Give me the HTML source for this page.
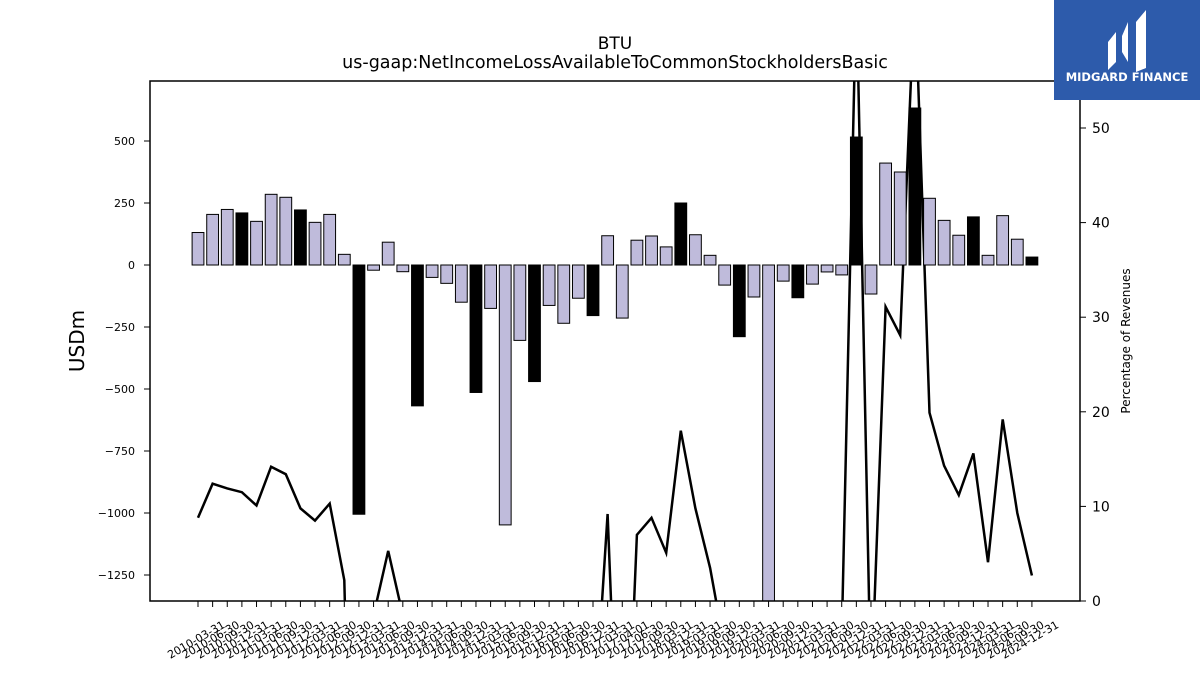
<!DOCTYPE html>
<html><head><meta charset="utf-8"><style>
html,body{margin:0;background:#fff;overflow:hidden;width:1200px;height:675px;font-family:"Liberation Sans","DejaVu Sans",sans-serif}
svg{display:block}
svg text{font-family:"DejaVu Sans","Liberation Sans",sans-serif}
</style></head><body>
<svg id="chart" width="1200" height="675" xmlns="http://www.w3.org/2000/svg">
<defs><clipPath id="plotclip"><rect x="150" y="81" width="930" height="520"/></clipPath></defs>
<rect width="1200" height="675" fill="#fff"/>
<text x="615" y="49" font-size="17" text-anchor="middle">BTU</text>
<text x="615" y="68" font-size="17.5" text-anchor="middle">us-gaap:NetIncomeLossAvailableToCommonStockholdersBasic</text>
<g id="line" clip-path="url(#plotclip)"></g>
<g id="bars" clip-path="url(#plotclip)"></g>
<rect x="150" y="81" width="930" height="520" fill="none" stroke="#000" stroke-width="1.5"/>
<g id="yleft"></g>
<g id="yright"></g>
<g id="xaxis"></g>
<text transform="translate(84,341) rotate(-90)" font-size="20" text-anchor="middle">USDm</text>
<text transform="translate(1130,341) rotate(-90)" font-size="12" text-anchor="middle">Percentage of Revenues</text>
<g>
<rect x="1054" y="0" width="146" height="100" fill="#2d5bab"/>
<path d="M1108 42 L1116 32 L1116 62 L1108 70 Z M1122 36 L1128 22 L1128 62 L1122 52 Z M1136 22 L1146 10 L1146 68 L1136 72 Z" fill="#fff"/>
<text x="1127" y="81" font-size="11.5" font-weight="bold" fill="#fff" text-anchor="middle" font-family="Liberation Sans">MIDGARD FINANCE</text>
</g>
</svg>
<script>
const dates=["2010-03-31","2010-06-30","2010-09-30","2010-12-31","2011-03-31","2011-06-30","2011-09-30","2011-12-31","2012-03-31","2012-06-30","2012-09-30","2012-12-31","2013-03-31","2013-06-30","2013-09-30","2013-12-31","2014-03-31","2014-06-30","2014-09-30","2014-12-31","2015-03-31","2015-06-30","2015-09-30","2015-12-31","2016-03-31","2016-06-30","2016-09-30","2016-12-31","2017-03-31","2017-04-01","2017-06-30","2017-09-30","2018-03-31","2018-12-31","2019-03-31","2019-06-30","2019-09-30","2019-12-31","2020-03-31","2020-06-30","2020-09-30","2020-12-31","2021-03-31","2021-06-30","2021-09-30","2021-12-31","2022-03-31","2022-06-30","2022-09-30","2022-12-31","2023-03-31","2023-06-30","2023-09-30","2023-12-31","2024-03-31","2024-06-30","2024-09-30","2024-12-31"];
const netIncome=[131,204,224,210,176,285,273,222,172,204,43,-1005,-21,92,-27,-568,-50,-74,-150,-514,-175,-1048,-304,-470,-163,-235,-134,-204,118,-214,100,117,73,250,122,39,-81,-289,-129,-1500,-65,-132,-77,-28,-40,516,-117,411,375,633,269,180,120,194,39,199,104,32];
const annual=[0,0,0,1,0,0,0,1,0,0,0,1,0,0,0,1,0,0,0,1,0,0,0,1,0,0,0,1,0,0,0,0,0,1,0,0,0,1,0,0,0,1,0,0,0,1,0,0,0,1,0,0,0,1,0,0,0,1];
const pctRevenue=[8.8,12.4,11.9,11.5,10.1,14.2,13.4,9.8,8.5,10.3,2.2,-60,-1.5,5.3,-1.5,-40,-3,-5,-10,-40,-12,-80,-25,-40,-15,-25,-12,-15,9.2,-30,7.0,8.8,5.1,18.0,9.8,3.5,-5,-25,-12,-150,-8,-12,-8,-3,-4,65,-10,31.1,28.1,65,19.9,14.3,11.2,15.6,4.1,19.2,9.3,2.7];
const leftTicks=[500,250,0,-250,-500,-750,-1000,-1250];
const rightTicks=[0,10,20,30,40,50];
const NS="http://www.w3.org/2000/svg";
const X0=198,DX=14.63;
function xs(i){return X0+i*DX;}
function yl(v){return 265-v*0.248;}
function yr(v){return 601-v*9.46;}
function mk(t,a,p){const e=document.createElementNS(NS,t);for(const k in a)e.setAttribute(k,a[k]);p.appendChild(e);return e;}
const bars=document.getElementById('bars');
netIncome.forEach((v,i)=>{
 const y=Math.min(yl(v),yl(0)),h=Math.abs(yl(v)-yl(0));
 const r=mk('rect',{x:xs(i)-5.9,y:y,width:11.8,height:h,fill:annual[i]?'#000':'#bfbbdb',stroke:'#000','stroke-width':1},bars);
 
 
});
const line=document.getElementById('line');
const pts=pctRevenue.map((v,i)=>xs(i).toFixed(1)+','+yr(v).toFixed(1)).join(' ');
const pl=mk('polyline',{points:pts,fill:'none',stroke:'#000','stroke-width':2.5,'stroke-linejoin':'miter'},line);


const yL=document.getElementById('yleft');
leftTicks.forEach(t=>{
 const y=yl(t);
 mk('line',{x1:144,x2:150,y1:y,y2:y,stroke:'#000','stroke-width':1},yL);
 const tx=mk('text',{x:135,y:y+4,'font-size':11,'text-anchor':'end'},yL);
 tx.textContent=t<0?'\u2212'+Math.abs(t):String(t);
 
 
});
const yR=document.getElementById('yright');
rightTicks.forEach(t=>{
 const y=yr(t);
 mk('line',{x1:1080,x2:1086,y1:y,y2:y,stroke:'#000','stroke-width':1},yR);
 const tx=mk('text',{x:1092,y:y+5,'font-size':14},yR);
 tx.textContent=String(t);
 
 
});
const xA=document.getElementById('xaxis');
dates.forEach((d,i)=>{
 const x=xs(i);
 mk('line',{x1:x,x2:x,y1:601,y2:607,stroke:'#000','stroke-width':1},xA);
 const tx=mk('text',{transform:'translate('+x+',643) rotate(-30)','font-size':11,'text-anchor':'middle'},xA);
 tx.textContent=d;
 
 
});
</script>
</body></html>
